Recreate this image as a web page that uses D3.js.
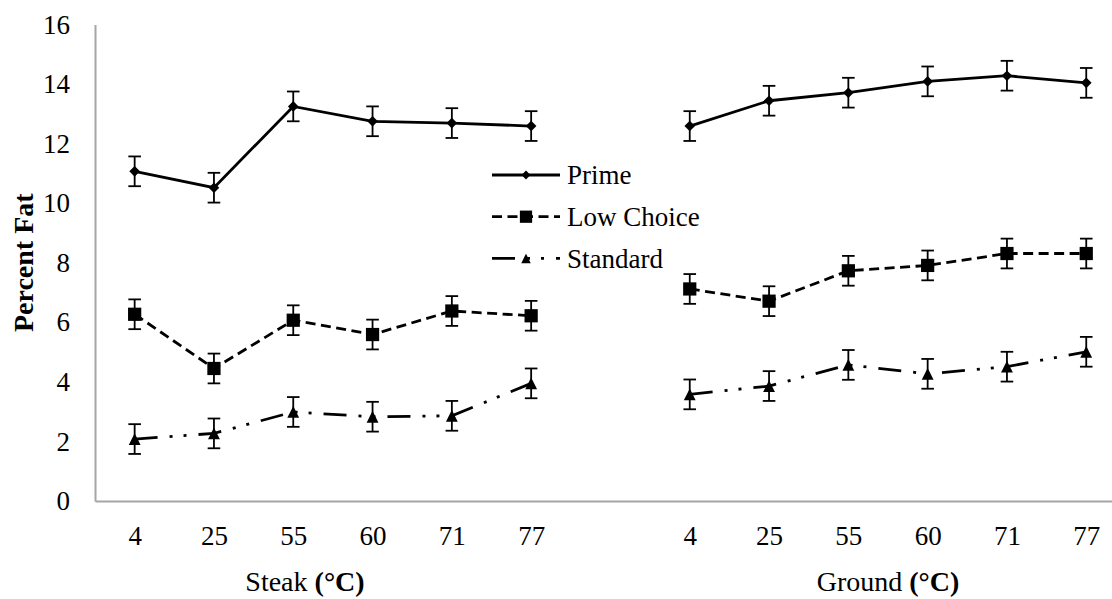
<!DOCTYPE html>
<html>
<head>
<meta charset="utf-8">
<script src="https://cdn.jsdelivr.net/npm/d3@7/dist/d3.min.js"></script>
<style>
  html, body { margin: 0; padding: 0; background: #fff; }
  svg, svg text { font-family: "Liberation Serif", "Times New Roman", Times, "DejaVu Serif", serif; }
</style>
</head>
<body>
<svg id="chart" width="1112" height="599"></svg>
<script>
// Cooking temperatures (°C) for each product form
const temps = ["4", "25", "55", "60", "71", "77"];
const groups = ["Steak", "Ground"];
const yTicks = [0, 2, 4, 6, 8, 10, 12, 14, 16];

// Percent fat, steak then ground
const primeSteak = [11.07, 10.52, 13.25, 12.75, 12.69, 12.59];
const primeGround = [12.59, 13.44, 13.71, 14.09, 14.28, 14.04];
const lowChoiceSteak = [6.27, 4.45, 6.07, 5.59, 6.38, 6.22];
const lowChoiceGround = [7.12, 6.71, 7.73, 7.91, 8.31, 8.31];
const standardSteak = [2.08, 2.27, 2.99, 2.83, 2.86, 3.95];
const standardGround = [3.58, 3.86, 4.57, 4.27, 4.51, 5.01];

// Standard error for each point
const primeErr = [0.5, 0.5, 0.5, 0.5, 0.5, 0.5, 0.5, 0.5, 0.5, 0.5, 0.5, 0.5];
const lowChoiceErr = [0.5, 0.5, 0.5, 0.5, 0.5, 0.5, 0.5, 0.5, 0.5, 0.5, 0.5, 0.5];
const standardErr = [0.5, 0.5, 0.5, 0.5, 0.5, 0.5, 0.5, 0.5, 0.5, 0.5, 0.5, 0.5];

const seriesNames = ["Prime", "Low Choice", "Standard"];

const FONT = '"Liberation Serif", "Times New Roman", Times, "DejaVu Serif", serif';
const svg = d3.select("#chart");

// Category slots: six steak temps, one empty slot, six ground temps
const slotKeys = [
  ...temps.map(t => "Steak|" + t),
  "gap",
  ...temps.map(t => "Ground|" + t)
];
const left = 95, step = 79.3;
const x = d3.scalePoint()
  .domain(slotKeys)
  .range([left, left + step * slotKeys.length])
  .padding(0.5);

const y = d3.scaleLinear().domain([0, 16]).range([501, 24.5]);

const series = [
  { name: "Prime", values: [primeSteak, primeGround], err: primeErr,
    dash: null, marker: "diamond" },
  { name: "Low Choice", values: [lowChoiceSteak, lowChoiceGround], err: lowChoiceErr,
    dash: "10,5.5", marker: "square" },
  { name: "Standard", values: [standardSteak, standardGround], err: standardErr,
    dash: "23,12,3,11,3,12", marker: "triangle" }
];

// Axes (no tick marks, grey axis lines)
const yAxis = d3.axisLeft(y).tickValues(yTicks).tickSize(0).tickPadding(25);
const gy = svg.append("g").attr("transform", `translate(${left},0)`).call(yAxis)
  .attr("font-family", FONT);
gy.select(".domain").attr("stroke", "#a6a6a6").attr("stroke-width", 2);
gy.selectAll("text").attr("font-size", 27).attr("fill", "#000");

const xAxis = d3.axisBottom(x).tickSize(0).tickPadding(25)
  .tickFormat(k => k === "gap" ? "" : k.split("|")[1]);
const gx = svg.append("g").attr("transform", `translate(0,${y(0)})`).call(xAxis)
  .attr("font-family", FONT);
gx.select(".domain").attr("stroke", "#a6a6a6").attr("stroke-width", 2);
gx.selectAll("text").attr("font-size", 27).attr("fill", "#000");

// Y axis title
svg.append("text")
  .attr("transform", `translate(33,${(y(0) + y(16)) / 2}) rotate(-90)`)
  .attr("text-anchor", "middle")
  .attr("font-size", 28).attr("font-weight", "bold")
  .text("Percent Fat");

// Group titles under the temperature labels
const groupTitleX = { Steak: 305, Ground: 888 };
groups.forEach(g => {
  const t = svg.append("text")
    .attr("x", groupTitleX[g]).attr("y", 591)
    .attr("text-anchor", "middle").attr("font-size", 28);
  t.append("tspan").text(g + " ");
  t.append("tspan").attr("font-weight", "bold").text("(°C)");
});

// Isosceles triangle centred on its bounding box (width ≈ height)
const boxTriangle = {
  draw(ctx, size) {
    const h = Math.sqrt(size * 2) / 2;
    ctx.moveTo(0, -h);
    ctx.lineTo(h, h);
    ctx.lineTo(-h, h);
    ctx.closePath();
  }
};

const symbolFor = {
  diamond: d3.symbol().type(d3.symbolDiamond2).size(72),
  square: d3.symbol().type(d3.symbolSquare).size(175),
  triangle: d3.symbol().type(boxTriangle).size(70)
};

const line = d3.line().x(d => d.x).y(d => d.y);
const plot = svg.append("g");

series.forEach(s => {
  groups.forEach((g, gi) => {
    const pts = s.values[gi].map((v, i) => ({
      x: x(g + "|" + temps[i]),
      y: y(v),
      v: v,
      e: s.err[gi * temps.length + i]
    }));

    // Error bars
    const eb = plot.append("g").attr("stroke", "#000").attr("stroke-width", 1.8);
    pts.forEach(p => {
      eb.append("line").attr("x1", p.x).attr("x2", p.x)
        .attr("y1", y(p.v + p.e)).attr("y2", y(p.v - p.e));
      eb.append("line").attr("x1", p.x - 6.3).attr("x2", p.x + 6.3)
        .attr("y1", y(p.v + p.e)).attr("y2", y(p.v + p.e));
      eb.append("line").attr("x1", p.x - 6.3).attr("x2", p.x + 6.3)
        .attr("y1", y(p.v - p.e)).attr("y2", y(p.v - p.e));
    });

    // Series line
    plot.append("path")
      .attr("d", line(pts))
      .attr("fill", "none").attr("stroke", "#000").attr("stroke-width", 2.8)
      .attr("stroke-dasharray", s.dash);

    // Markers
    plot.append("g").selectAll("path").data(pts).join("path")
      .attr("d", symbolFor[s.marker])
      .attr("transform", d => `translate(${d.x},${d.y})`)
      .attr("fill", "#000");
  });
});

// Legend
const legend = svg.append("g").attr("transform", "translate(492,175)");
const legendSymbols = {
  diamond: d3.symbol().type(d3.symbolDiamond2).size(50),
  square: d3.symbol().type(d3.symbolSquare).size(150),
  triangle: d3.symbol().type(boxTriangle).size(45)
};
series.forEach((s, i) => {
  const row = legend.append("g").attr("transform", `translate(0,${i * 41.7})`);
  row.append("line").attr("x1", 0).attr("x2", 68).attr("y1", 0).attr("y2", 0)
    .attr("stroke", "#000").attr("stroke-width", 2.8)
    .attr("stroke-dasharray", s.dash);
  row.append("path").attr("d", legendSymbols[s.marker])
    .attr("transform", "translate(34,0)").attr("fill", "#000");
  row.append("text").attr("x", 75).attr("y", 0).attr("dy", "0.34em")
    .attr("font-size", 27).text(seriesNames[i]);
});
</script>
</body>
</html>
